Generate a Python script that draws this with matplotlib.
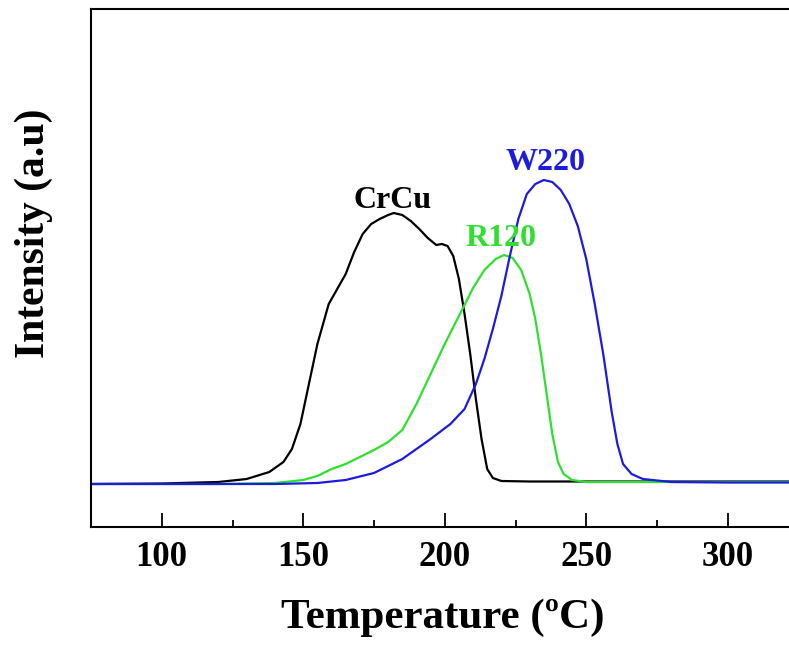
import numpy as np
import matplotlib
matplotlib.use("Agg")
import matplotlib.pyplot as plt
from matplotlib.ticker import MultipleLocator

plt.rcParams['font.family'] = ['Liberation Serif', 'DejaVu Serif']
plt.rcParams['font.weight'] = 'bold'

# traced curves: temperature (degC) vs intensity (a.u.)
crcu_t = [75, 100, 120, 130, 138, 143, 146, 149, 152, 155, 159, 162, 165, 168, 171,
          174, 177, 180, 182, 185, 188, 191, 194, 197, 199, 201, 203, 205, 207, 209,
          211, 213, 215, 217, 220, 230, 250, 325]
crcu_i = [0, 0.5, 2, 5, 12, 22, 35, 60, 100, 140, 180, 195, 210, 232, 250,
          260, 265, 269, 271, 269, 263, 255, 246, 239, 240, 238, 228, 205, 170, 130,
          85, 45, 15, 6, 3, 2.5, 2.5, 2.5]

r120_t = [75, 120, 140, 150, 155, 160, 165, 170, 175, 180, 185, 190, 195, 200, 205,
          210, 214, 218, 221, 224, 227, 230, 232, 234, 236, 238, 240, 242, 245, 250,
          260, 280, 325]
r120_i = [0, 0, 1, 4, 8, 15, 20, 27, 34, 42, 54, 80, 110, 140, 168,
          196, 214, 225, 229, 226, 214, 190, 165, 130, 90, 50, 22, 10, 4, 2,
          2, 2, 2]

w220_t = [75, 140, 155, 165, 175, 185, 195, 202, 207, 211, 214, 217, 220, 223, 226,
          229, 232, 235, 238, 241, 244, 247, 250, 253, 256, 259, 261, 263, 266, 270,
          280, 300, 325]
w220_i = [0, 0, 1, 4, 11, 25, 45, 60, 75, 100, 125, 155, 188, 228, 265,
          290, 300, 304, 302, 294, 280, 258, 225, 180, 130, 72, 40, 20, 10, 5,
          2, 1.5, 1.5]

labels = ['CrCu', 'R120', 'W220']
colors = ['black', '#2ee02e', '#1c1ce0']
label_pos = [(181.5, 284), (220, 246), (235.5, 321)]

fig = plt.figure(figsize=(7.89, 6.51), dpi=100)
ax = fig.add_axes([91 / 789, 124 / 651, 707.5 / 789, 518 / 651])

series = [(crcu_t, crcu_i), (r120_t, r120_i), (w220_t, w220_i)]
for (t, i), c in zip(series, colors):
    ax.plot(t, i, color=c, lw=1.6)

for name, c, (x, y) in zip(labels, colors, label_pos):
    ax.text(x, y, name, color=c, fontsize=23, fontweight='bold',
            ha='center', va='center')

ax.set_xlim(75, 325)
ax.set_ylim(-43, 475)
ax.set_yticks([])
ax.xaxis.set_major_locator(MultipleLocator(50))
ax.xaxis.set_minor_locator(MultipleLocator(25))
ax.tick_params(axis='x', which='major', direction='in', length=10, width=1.3,
               labelsize=25, pad=10)
ax.tick_params(axis='x', which='minor', direction='in', length=5, width=1.3)
for s in ax.spines.values():
    s.set_linewidth(1.5)

fig.text(443 / 789, 1 - 618 / 651, 'Temperature (ºC)', fontsize=31,
         fontweight='bold', ha='center', va='center')
fig.text(34 / 789, 1 - 233 / 651, 'Intensity (a.u)', fontsize=30,
         fontweight='bold', ha='center', va='center', rotation=90)

fig.savefig('out.png', dpi=100)
